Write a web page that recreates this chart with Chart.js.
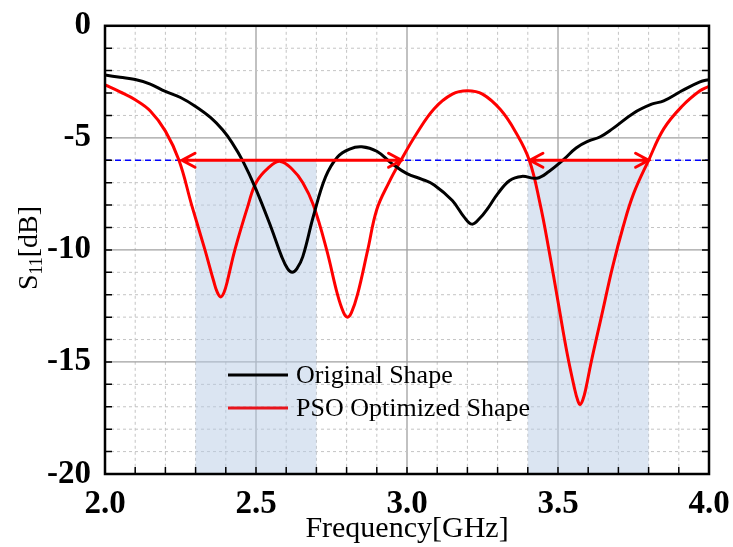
<!DOCTYPE html>
<html>
<head>
<meta charset="utf-8">
<script src="https://cdn.jsdelivr.net/npm/chart.js@4.4.1/dist/chart.umd.min.js"></script>
<style>
  body { margin: 0; background: #fff; }
  #wrap { width: 733px; height: 547px; }
</style>
</head>
<body>
<div id="wrap"><canvas id="c"></canvas></div>
<script>
// frequency in GHz, S11 in dB
const origFreq = [2.0, 2.05, 2.1, 2.15, 2.2, 2.25, 2.3, 2.35, 2.39, 2.42, 2.457, 2.5, 2.55, 2.585, 2.605, 2.62, 2.635, 2.655, 2.69, 2.73, 2.77, 2.81, 2.85, 2.9, 2.95, 3.0, 3.05, 3.09, 3.15, 3.19, 3.215, 3.24, 3.27, 3.3, 3.34, 3.38, 3.43, 3.47, 3.52, 3.56, 3.6, 3.64, 3.68, 3.75, 3.81, 3.85, 3.91, 3.97, 4.0];
const origS11 = [-2.2, -2.3, -2.4, -2.6, -2.93, -3.2, -3.6, -4.1, -4.65, -5.2, -6.05, -7.3, -9.0, -10.3, -10.85, -11.0, -10.85, -10.3, -8.5, -6.75, -5.85, -5.5, -5.4, -5.6, -6.15, -6.6, -6.85, -7.1, -7.8, -8.55, -8.85, -8.6, -8.1, -7.5, -6.9, -6.72, -6.8, -6.5, -5.95, -5.45, -5.15, -4.95, -4.6, -3.9, -3.5, -3.35, -2.9, -2.5, -2.4];

const psoFreq = [2.0, 2.05, 2.1, 2.15, 2.2, 2.245, 2.287, 2.331, 2.36, 2.372, 2.383, 2.394, 2.405, 2.43, 2.474, 2.5, 2.54, 2.58, 2.62, 2.655, 2.69, 2.734, 2.77, 2.79, 2.803, 2.816, 2.836, 2.87, 2.9, 2.94, 2.98, 3.03, 3.09, 3.15, 3.2, 3.25, 3.31, 3.36, 3.405, 3.44, 3.47, 3.5, 3.53, 3.555, 3.565, 3.573, 3.582, 3.592, 3.61, 3.645, 3.68, 3.715, 3.75, 3.8, 3.85, 3.91, 3.97, 4.0];
const psoS11 = [-2.64, -2.95, -3.3, -3.8, -4.7, -6.0, -8.0, -10.0, -11.4, -11.9, -12.1, -11.9, -11.4, -10.0, -8.0, -7.0, -6.35, -6.05, -6.4, -7.0, -8.0, -10.0, -12.0, -12.8, -13.0, -12.8, -12.0, -10.0, -8.2, -7.0, -6.0, -4.85, -3.7, -3.05, -2.9, -3.05, -3.75, -4.75, -6.0, -7.9, -10.0, -12.3, -14.6, -16.2, -16.7, -16.9, -16.7, -16.2, -15.0, -12.9, -10.8, -9.0, -7.5, -6.0, -4.6, -3.6, -2.9, -2.7];

const threshold = -6;
const bands = [[2.3, 2.7], [3.4, 3.8]];
const arrows = [[2.255, 2.982], [3.407, 3.80]];
const xTicks = [2.0, 2.5, 3.0, 3.5, 4.0];
const yTicks = [0, -5, -10, -15, -20];
const seriesNames = ['Original Shape', 'PSO Optimized Shape'];

const serif = '"Liberation Serif", "Times New Roman", serif';

const toPts = (xs, ys) => xs.map((f, i) => ({ x: f, y: ys[i] }));

const decor = {
    id: 'decor',
    beforeDatasetsDraw(chart) {
        const { ctx, chartArea: a, scales: { x, y } } = chart;
        ctx.save();
        // grid
        for (let i = 21; i < 40; i++) {
            const px = x.getPixelForValue(i / 10);
            ctx.beginPath();
            if (i % 5 === 0) { ctx.setLineDash([]); ctx.strokeStyle = '#a0a0a0'; ctx.lineWidth = 1.3; }
            else { ctx.setLineDash([3, 3]); ctx.strokeStyle = '#c4c4c4'; ctx.lineWidth = 1; }
            ctx.moveTo(px, a.top); ctx.lineTo(px, a.bottom); ctx.stroke();
        }
        for (let d = -19; d < 0; d++) {
            const py = y.getPixelForValue(d);
            ctx.beginPath();
            if (d % 5 === 0) { ctx.setLineDash([]); ctx.strokeStyle = '#a0a0a0'; ctx.lineWidth = 1.3; }
            else { ctx.setLineDash([3, 3]); ctx.strokeStyle = '#c4c4c4'; ctx.lineWidth = 1; }
            ctx.moveTo(a.left, py); ctx.lineTo(a.right, py); ctx.stroke();
        }
        ctx.setLineDash([]);
        // shaded bands
        ctx.fillStyle = 'rgba(184,204,230,0.5)';
        bands.forEach(([f0, f1]) => {
            const x0 = x.getPixelForValue(f0), x1 = x.getPixelForValue(f1);
            const y0 = y.getPixelForValue(threshold), y1 = y.getPixelForValue(-20);
            ctx.fillRect(x0, y0, x1 - x0, y1 - y0);
        });
        // -6 dB line
        const ty = y.getPixelForValue(threshold);
        ctx.beginPath();
        ctx.setLineDash([6, 4]);
        ctx.strokeStyle = '#0000ff';
        ctx.lineWidth = 1.5;
        ctx.moveTo(a.left, ty); ctx.lineTo(a.right, ty); ctx.stroke();
        ctx.restore();
    },
    afterDatasetsDraw(chart) {
        const { ctx, chartArea: a, scales: { x, y } } = chart;
        ctx.save();
        // arrows
        const ty = y.getPixelForValue(threshold);
        ctx.strokeStyle = '#ff0000';
        ctx.lineWidth = 3;
        ctx.lineCap = 'round';
        arrows.forEach(([f0, f1]) => {
            const x0 = x.getPixelForValue(f0), x1 = x.getPixelForValue(f1);
            ctx.beginPath();
            ctx.moveTo(x0, ty); ctx.lineTo(x1, ty);
            ctx.moveTo(x0 + 13, ty - 7); ctx.lineTo(x0, ty); ctx.lineTo(x0 + 13, ty + 7);
            ctx.moveTo(x1 - 13, ty - 7); ctx.lineTo(x1, ty); ctx.lineTo(x1 - 13, ty + 7);
            ctx.stroke();
        });
        ctx.lineCap = 'butt';
        // inward ticks
        ctx.strokeStyle = '#000';
        ctx.lineWidth = 1.5;
        ctx.beginPath();
        for (let i = 21; i < 40; i++) {
            const px = x.getPixelForValue(i / 10);
            ctx.moveTo(px, a.bottom); ctx.lineTo(px, a.bottom - 7);
        }
        for (let d = -19; d < 0; d++) {
            const py = y.getPixelForValue(d);
            ctx.moveTo(a.left, py); ctx.lineTo(a.left + 7, py);
            ctx.moveTo(a.right, py); ctx.lineTo(a.right - 7, py);
        }
        ctx.stroke();
        // frame
        ctx.lineWidth = 2.5;
        ctx.strokeRect(a.left, a.top, a.right - a.left, a.bottom - a.top);
        // legend
        const colors = ['#000000', '#e8141c'];
        ctx.font = '26px ' + serif;
        ctx.textBaseline = 'middle';
        ctx.fillStyle = '#000';
        [375, 408].forEach((ly, i) => {
            ctx.beginPath();
            ctx.strokeStyle = colors[i];
            ctx.lineWidth = 3;
            ctx.moveTo(228, ly); ctx.lineTo(288, ly); ctx.stroke();
            ctx.fillText(seriesNames[i], 296, ly + 1);
        });
        // y axis title with subscript
        ctx.translate(37, 248);
        ctx.rotate(-Math.PI / 2);
        ctx.textBaseline = 'alphabetic';
        const big = '28px ' + serif, small = '18px ' + serif;
        ctx.font = big; const wS = ctx.measureText('S').width; const wB = ctx.measureText('[dB]').width;
        ctx.font = small; const wSub = ctx.measureText('11').width;
        let cx = -(wS + wSub + wB) / 2;
        ctx.font = big; ctx.fillText('S', cx, 0); cx += wS;
        ctx.font = small; ctx.fillText('11', cx, 5); cx += wSub;
        ctx.font = big; ctx.fillText('[dB]', cx, 0);
        ctx.restore();
    }
};

new Chart(document.getElementById('c'), {
    type: 'line',
    data: {
        datasets: [
            { label: seriesNames[0], data: toPts(origFreq, origS11), borderColor: '#000000', borderWidth: 3, pointRadius: 0, tension: 0.4 },
            { label: seriesNames[1], data: toPts(psoFreq, psoS11), borderColor: '#ff0000', borderWidth: 3, pointRadius: 0, tension: 0.4 }
        ]
    },
    options: {
        responsive: true,
        maintainAspectRatio: false,
        animation: false,
        layout: { padding: { left: 0, right: 24, top: 24, bottom: 0 } },
        plugins: { legend: { display: false }, tooltip: { enabled: false } },
        scales: {
            x: {
                type: 'linear', min: 2, max: 4,
                afterBuildTicks: s => { s.ticks = xTicks.map(v => ({ value: v })); },
                afterFit: s => { s.height = 73; },
                grid: { display: false }, border: { display: false },
                ticks: { color: '#000', padding: 3, font: { family: serif, size: 33, weight: 'bold' }, callback: v => v.toFixed(1) },
                title: { display: true, text: 'Frequency[GHz]', color: '#000', font: { family: serif, size: 30 }, padding: { top: 0, bottom: 0 } }
            },
            y: {
                type: 'linear', min: -20, max: 0,
                afterBuildTicks: s => { s.ticks = yTicks.map(v => ({ value: v })); },
                afterFit: s => { s.width = 105; },
                grid: { display: false }, border: { display: false },
                ticks: { color: '#000', padding: 6, font: { family: serif, size: 33, weight: 'bold' } }
            }
        }
    },
    plugins: [decor]
});
</script>
</body>
</html>
